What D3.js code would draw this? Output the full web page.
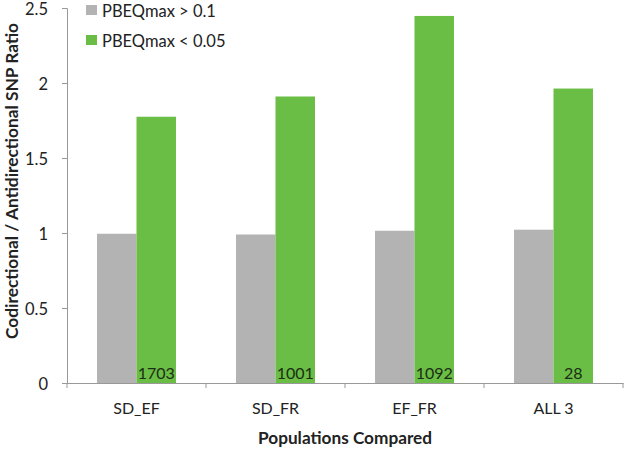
<!DOCTYPE html>
<html><head><meta charset="utf-8">
<script src="https://cdn.jsdelivr.net/npm/d3@7"></script>
<style>body{margin:0;background:#fff}text{font-family:Lato,"Open Sans",sans-serif}</style>
</head><body><svg id="c" width="625" height="451"></svg>
<script>
const categories = ["SD_EF","SD_FR","EF_FR","ALL 3"];
const seriesNames = ["PBEQmax > 0.1","PBEQmax < 0.05"];
const grayValues = [0.995, 0.99, 1.015, 1.022];
const greenValues = [1.775, 1.91, 2.447, 1.963];
const counts = ["1703","1001","1092","28"];
const yTicks = [0,0.5,1,1.5,2,2.5];
const colors = ["#b3b3b3","#6abd45"];

const svg = d3.select("#c");
const m = {l:67, r:2, t:8, b:68};
const W = 625, H = 451;
const x = d3.scaleBand().domain(categories).range([m.l, W-m.r]).paddingInner(0).paddingOuter(0);
const y = d3.scaleLinear().domain([0,2.5]).range([H-m.b, m.t]);
const bw = x.bandwidth()*0.284;

const g = svg.append("g");
const series = [grayValues, greenValues];
series.forEach((vals,si)=>{
  g.selectAll(null).data(categories).enter().append("rect")
    .attr("x", (d)=> x(d)+x.bandwidth()/2 - bw + si*bw)
    .attr("width", bw)
    .attr("y", (d,i)=>y(vals[i]))
    .attr("height", (d,i)=>y(0)-y(vals[i]))
    .attr("fill", colors[si]);
});
g.selectAll(null).data(categories).enter().append("text")
  .attr("x", d=> x(d)+x.bandwidth()/2 + bw/2)
  .attr("y", y(0)-4)
  .attr("text-anchor","middle")
  .attr("font-size",16)
  .attr("fill","#1b2e14")
  .text((d,i)=>counts[i]);

// axes
const ya = d3.axisLeft(y).tickValues(yTicks).tickSize(5).tickFormat(d=>d3.format("")(d));
const yg = svg.append("g").attr("transform",`translate(${m.l},0)`).call(ya);
yg.select(".domain").attr("stroke","#999");
yg.selectAll(".tick line").attr("stroke","#999");
yg.selectAll(".tick text").attr("font-size",16.5).attr("fill","#222").attr("x",-19).attr("dy","0.38em").attr("font-family","Lato,sans-serif");

const xa = d3.axisBottom(x).tickSize(0).tickSizeOuter(0);
const xg = svg.append("g").attr("transform",`translate(0,${y(0)})`).call(xa);
xg.select(".domain").attr("stroke","#999");
xg.selectAll(".tick text").attr("font-size",16).attr("fill","#222").attr("y",20).attr("dy","0.71em").attr("font-family","Lato,sans-serif");
// category boundary ticks
const bounds = categories.map(c=>x(c)).concat([x(categories[categories.length-1])+x.bandwidth()]);
xg.selectAll(null).data(bounds).enter().append("line")
  .attr("x1",d=>d).attr("x2",d=>d).attr("y1",0).attr("y2",5).attr("stroke","#999");

// titles
svg.append("text").attr("x",345).attr("y",444).attr("text-anchor","middle")
  .attr("font-size",17.5).attr("font-weight","bold").attr("fill","#222")
  .attr("textLength",174).attr("lengthAdjust","spacingAndGlyphs").text("Populations Compared");
svg.append("text").attr("transform",`translate(18,181) rotate(-90)`).attr("text-anchor","middle")
  .attr("font-size",17).attr("font-weight","bold").attr("fill","#222")
  .attr("textLength",316).attr("lengthAdjust","spacingAndGlyphs").text("Codirectional / Antidirectional SNP Ratio");

// legend
const lg = svg.append("g");
seriesNames.forEach((s,i)=>{
  lg.append("rect").attr("x",86).attr("y",5+i*30).attr("width",11).attr("height",10).attr("fill",colors[i]);
  lg.append("text").attr("x",102).attr("y",17+i*30).attr("font-size",16.5).attr("fill","#222").text(s);
});
</script></body></html>
